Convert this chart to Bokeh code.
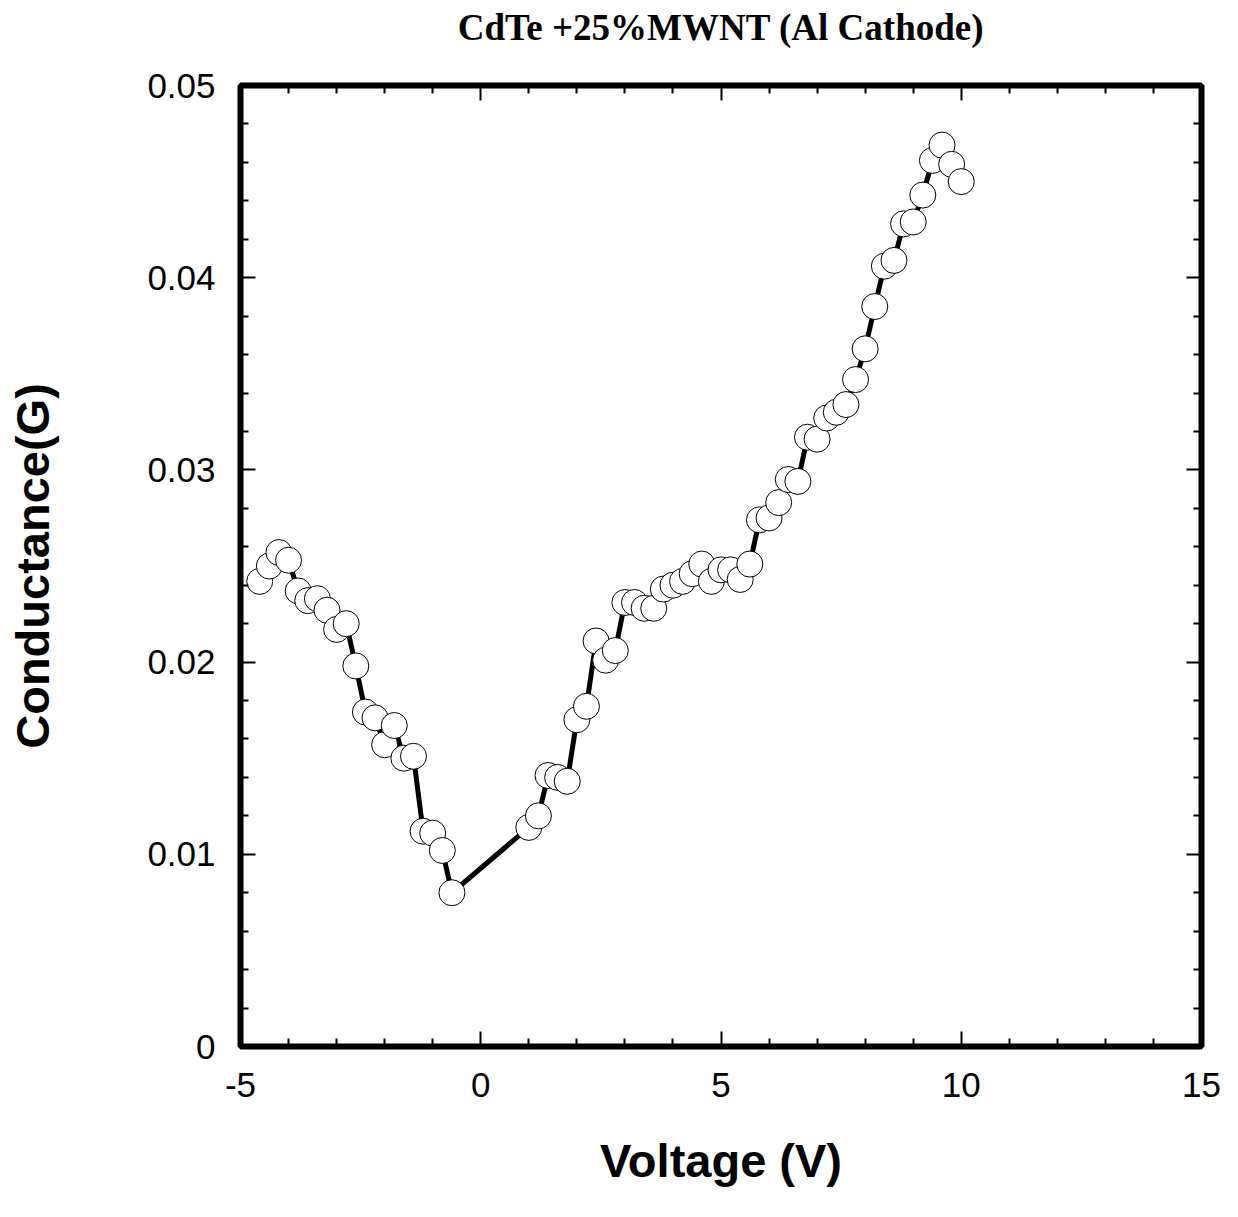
from bokeh.plotting import figure
from bokeh.models import LinearAxis, FixedTicker, Range1d, CustomJSTickFormatter
from bokeh.embed import file_html
from bokeh.resources import INLINE

voltage = [-4.6, -4.4, -4.2, -4.0, -3.8, -3.6, -3.4, -3.2, -3.0, -2.8,
           -2.6, -2.4, -2.2, -2.0, -1.8, -1.6, -1.4, -1.2, -1.0, -0.8, -0.6,
           1.0, 1.2, 1.4, 1.6, 1.8, 2.0, 2.2, 2.4, 2.6, 2.8,
           3.0, 3.2, 3.4, 3.6, 3.8, 4.0, 4.2, 4.4, 4.6, 4.8,
           5.0, 5.2, 5.4, 5.6, 5.8, 6.0, 6.2, 6.4, 6.6, 6.8,
           7.0, 7.2, 7.4, 7.6, 7.8, 8.0, 8.2, 8.4, 8.6, 8.8,
           9.0, 9.2, 9.4, 9.6, 9.8, 10.0]
conductance = [0.0242, 0.0250, 0.0257, 0.0253, 0.0237, 0.0232, 0.0233, 0.0227, 0.0217, 0.0220,
               0.0198, 0.0174, 0.0171, 0.0157, 0.0167, 0.0150, 0.0151, 0.0112, 0.0111, 0.0102, 0.0080,
               0.0114, 0.0120, 0.0141, 0.0140, 0.0138, 0.0170, 0.0177, 0.0211, 0.0201, 0.0206,
               0.0231, 0.0231, 0.0228, 0.0228, 0.0238, 0.0240, 0.0242, 0.0246, 0.0251, 0.0242,
               0.0248, 0.0248, 0.0243, 0.0251, 0.0274, 0.0275, 0.0283, 0.0295, 0.0294, 0.0317,
               0.0316, 0.0327, 0.0330, 0.0334, 0.0347, 0.0363, 0.0385, 0.0406, 0.0409, 0.0428,
               0.0429, 0.0443, 0.0461, 0.0469, 0.0459, 0.0450]

title_text = "CdTe +25%MWNT (Al Cathode)"
x_ticks = [-5, 0, 5, 10, 15]
x_tick_labels = ["-5", "0", "5", "10", "15"]
x_minor = [-4, -3, -2, -1, 1, 2, 3, 4, 6, 7, 8, 9, 11, 12, 13, 14]
y_ticks = [0, 0.01, 0.02, 0.03, 0.04, 0.05]
y_tick_labels = ["0", "0.01", "0.02", "0.03", "0.04", "0.05"]
y_minor = [0.002, 0.004, 0.006, 0.008, 0.012, 0.014, 0.016, 0.018,
           0.022, 0.024, 0.026, 0.028, 0.032, 0.034, 0.036, 0.038,
           0.042, 0.044, 0.046, 0.048]

p = figure(width=1238, height=1217, output_backend="svg", toolbar_location=None,
           x_range=Range1d(-5, 15), y_range=Range1d(0, 0.05),
           x_axis_location=None, y_axis_location=None,
           min_border_left=240, min_border_right=37, min_border_top=85, min_border_bottom=171)
p.background_fill_color = "white"
p.border_fill_color = "white"
p.outline_line_color = "black"
p.outline_line_width = 6
p.xgrid.visible = False
p.ygrid.visible = False
p.title.visible = False

def style(ax, show_labels):
    ax.axis_line_color = None
    ax.major_tick_in = 15
    ax.major_tick_out = 0
    ax.minor_tick_in = 8
    ax.minor_tick_out = 0
    ax.major_tick_line_width = 2
    ax.minor_tick_line_width = 2
    ax.major_tick_line_color = "black"
    ax.minor_tick_line_color = "black"
    if show_labels:
        ax.major_label_text_font = "Liberation Sans"
        ax.major_label_text_font_size = "35px"
        ax.major_label_text_color = "black"
        ax.axis_label_text_font = "Liberation Sans"
        ax.axis_label_text_font_style = "bold"
        ax.axis_label_text_font_size = "47px"
        ax.axis_label_text_color = "black"
    else:
        ax.formatter = CustomJSTickFormatter(code="return '';")
        ax.major_label_text_font_size = "1px"
        ax.major_label_standoff = 0

xb = LinearAxis(ticker=FixedTicker(ticks=x_ticks, minor_ticks=x_minor),
                major_label_overrides=dict(zip(x_ticks, x_tick_labels)),
                axis_label="Voltage (V)")
style(xb, True)
xb.major_label_standoff = 26
xb.axis_label_standoff = 34
p.add_layout(xb, "below")

yl = LinearAxis(ticker=FixedTicker(ticks=y_ticks, minor_ticks=y_minor),
                major_label_overrides=dict(zip(y_ticks, y_tick_labels)),
                axis_label="Conductance(G)")
style(yl, True)
yl.major_label_standoff = 25
yl.axis_label_standoff = 85
p.add_layout(yl, "left")

# top axis: mirrored ticks, carries the chart title as its label
xt = LinearAxis(ticker=FixedTicker(ticks=x_ticks, minor_ticks=x_minor),
                axis_label=title_text)
style(xt, False)
xt.axis_label_text_font = "Liberation Serif"
xt.axis_label_text_font_style = "bold"
xt.axis_label_text_font_size = "37px"
xt.axis_label_text_color = "black"
xt.axis_label_standoff = 38
p.add_layout(xt, "above")

yr = LinearAxis(ticker=FixedTicker(ticks=y_ticks, minor_ticks=y_minor))
style(yr, False)
p.add_layout(yr, "right")

p.line(voltage, conductance, line_color="black", line_width=5)
p.scatter(voltage, conductance, marker="circle", size=26,
          fill_color="white", line_color="black", line_width=1)

open("out.html", "w").write(file_html(p, INLINE))
